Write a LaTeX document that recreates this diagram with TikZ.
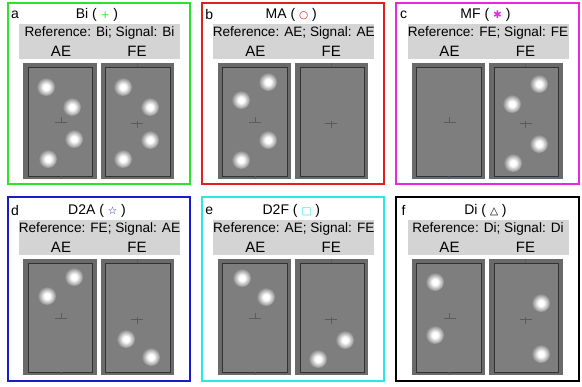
\documentclass[tikz,border=0pt]{standalone}
\usepackage{fontspec}
\setmainfont{Liberation Sans}
\newfontfamily\symfont{DejaVu Sans}
\usetikzlibrary{positioning}
\definecolor{bigreen}{RGB}{45,225,45}
\definecolor{mared}{RGB}{228,30,30}
\definecolor{mfmagenta}{RGB}{228,40,228}
\definecolor{dablue}{RGB}{25,25,205}
\definecolor{dfcyan}{RGB}{40,232,232}
\definecolor{headgray}{RGB}{212,212,212}
\definecolor{rimgray}{RGB}{106,106,106}
\definecolor{stimgray}{RGB}{126,126,126}
\definecolor{edgegray}{RGB}{50,50,50}
\pgfdeclareradialshading{glow}{\pgfpoint{0bp}{0bp}}{color(0bp)=(white); color(8bp)=(white); color(27bp)=(stimgray); color(50bp)=(stimgray)}
\tikzset{every picture/.style={line width=0.75pt}}

\begin{document}
\begin{tikzpicture}[x=1pt,y=1pt,yscale=-1,xscale=1]

     \tikzstyle{panelbox} = [line width=2pt]
     \tikzstyle{panellabel} = [font=\fontsize{14}{16}\selectfont, inner sep=0pt]
     \tikzstyle{titletext} = [font=\fontsize{14}{16}\selectfont, inner sep=0pt]
     \tikzstyle{headbox} = [fill=headgray,
						minimum width = 161pt,
						minimum height = 35pt,
						inner sep = 0pt
						]
     \tikzstyle{reftext} = [font=\fontsize{13.6}{15}\selectfont, inner sep=0pt]
     \tikzstyle{eyetext} = [font=\fontsize{15}{17}\selectfont, inner sep=0pt]
     \tikzstyle{rim} = [fill=rimgray]
     \tikzstyle{screen} = [draw=edgegray, fill=stimgray, line width=0.9pt]
     \tikzstyle{fixline} = [draw=edgegray!80, line width=0.6pt]
     \tikzstyle{blob} = [shading=glow]

\useasboundingbox (0,0) rectangle (582,387);

% panels: origin x / origin y / frame top / frame bottom / letter / condition / marker / colour / reference / signal
\foreach \px/\py/\ft/\fb/\lab/\cond/\sym/\col/\refe/\sig in {
	0/0/3.5/184/a/Bi/+/bigreen/Bi/Bi,
	194.3/0/3.5/184/b/MA/○/mared/AE/AE,
	388.5/0/3.5/184/c/MF/✱/mfmagenta/FE/FE,
	0/196/197.5/381/d/D2A/☆/dablue/FE/AE,
	194.3/196/197.5/381/e/D2F/□/dfcyan/AE/FE,
	388.5/196/197.5/381/f/Di/△/black/Di/Di}
{
\draw[panelbox, draw=\col] (\px+7.5,\ft) rectangle (\px+190,\fb);
\node[panellabel] (let\lab) at (\px+15,\py+14.5) {\lab};
\node[titletext] (tit\lab) at (\px+97,\py+14.5) {\cond\ ( {\symfont\fontsize{10.5}{12}\selectfont\textcolor{\col}{\sym}} )};
\node[headbox] (head\lab) at (\px+99.5,\py+41.5) {};
\node[reftext] (ref\lab) at (\px+99.5,\py+33.3) {Reference: \refe; Signal: \sig};
\node[eyetext, on grid, below left = 18.4pt and 38.5pt of ref\lab] (ae\lab) {AE};
\node[eyetext, on grid, below right = 18.4pt and 37.5pt of ref\lab] (fe\lab) {FE};

\foreach \sx in {0,77.4}
{
	\fill[rim] (\px+23.3+\sx,\py+63.3) rectangle (\px+96.7+\sx,\py+179.3);
	\draw[screen] (\px+28.3+\sx,\py+67.3) rectangle (\px+92.7+\sx,\py+176);
}
% fixation marks and ticks
\draw[fixline] (\px+55,\py+122) -- (\px+67,\py+122);
\draw[fixline] (\px+61,\py+117) -- (\px+61,\py+122);
\draw[fixline] (\px+131,\py+123) -- (\px+143,\py+123);
\draw[fixline] (\px+137,\py+121) -- (\px+137,\py+128);
\draw[fixline] (\px+61,\py+176) -- (\px+61,\py+179.3);
\draw[fixline] (\px+137,\py+63.3) -- (\px+137,\py+67.3);
}

% dots
\foreach \bx/\by in {46/87, 72/107, 74/139, 48/159, 123/87, 150/107, 150/140, 123/159,
	268/82, 241/100, 268/140, 241/160,
	539/84, 512/104, 539/144, 513/163,
	74/277, 47/296, 126/339, 151/357,
	242/278, 266/297, 345/340, 318/359,
	435/282, 435/335, 541/303, 541/354}
	\shade[blob] (\bx,\by) circle (9);

\end{tikzpicture}
\end{document}
